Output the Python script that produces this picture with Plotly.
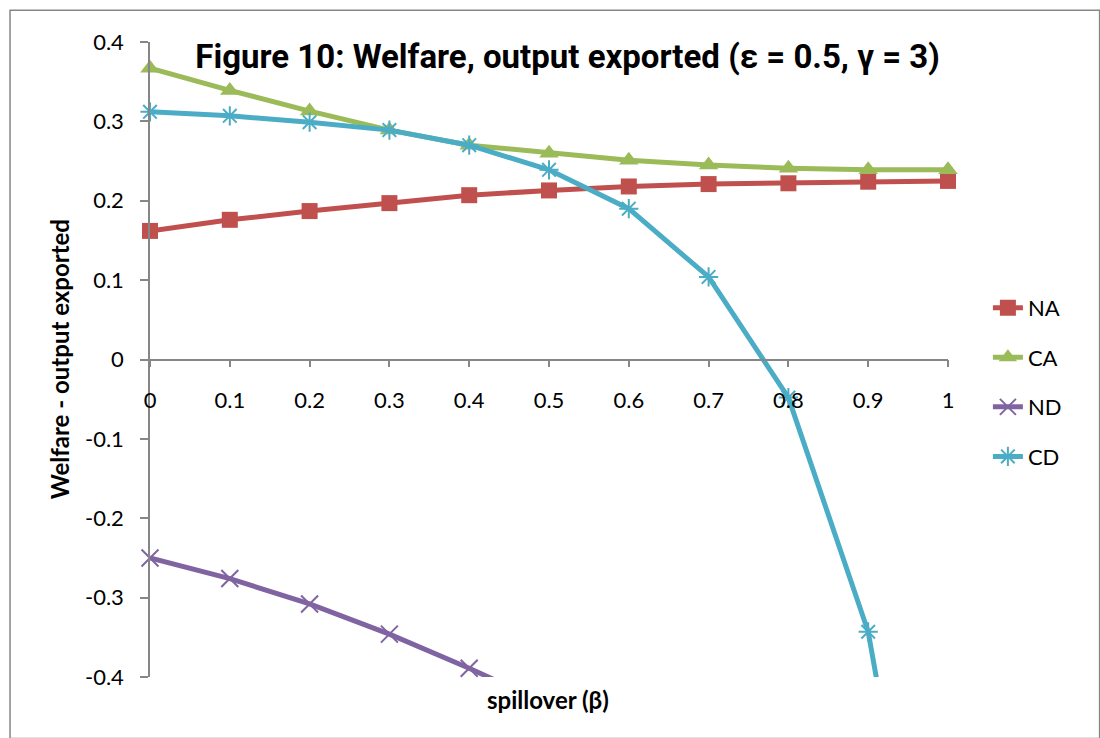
import plotly.graph_objects as go

beta = [0, 0.1, 0.2, 0.3, 0.4, 0.5, 0.6, 0.7, 0.8, 0.9, 1.0]
tick_vals_x = [0, 0.1, 0.2, 0.3, 0.4, 0.5, 0.6, 0.7, 0.8, 0.9, 1]
tick_text_x = ["0", "0.1", "0.2", "0.3", "0.4", "0.5", "0.6", "0.7", "0.8", "0.9", "1"]
tick_vals_y = [-0.4, -0.3, -0.2, -0.1, 0, 0.1, 0.2, 0.3, 0.4]
tick_text_y = ["-0.4", "-0.3", "-0.2", "-0.1", "0", "0.1", "0.2", "0.3", "0.4"]

NA = [0.162, 0.176, 0.187, 0.197, 0.207, 0.213, 0.218, 0.221, 0.222, 0.224, 0.225]
CA = [0.367, 0.339, 0.313, 0.289, 0.270, 0.260, 0.251, 0.245, 0.241, 0.239, 0.239]
ND = [-0.250, -0.276, -0.308, -0.346, -0.389, -0.435, -0.49, -0.55, -0.62, -0.70, -0.79]
CD = [0.312, 0.307, 0.299, 0.289, 0.270, 0.239, 0.190, 0.104, -0.048, -0.343, -0.91]

series = [
    ("NA", NA, "#C0504D", "square", 16, 0),
    ("CA", CA, "#9BBB59", "triangle-up", 17, 0),
    ("ND", ND, "#8064A2", "x-thin", 17, 2),
    ("CD", CD, "#4BACC6", "asterisk", 16, 2),
]

fig = go.Figure()
for name, vals, color, sym, size, lw in series:
    fig.add_trace(go.Scatter(
        x=beta, y=vals, name=name, mode="lines+markers",
        line=dict(color=color, width=5),
        marker=dict(symbol=sym, size=size, color=color,
                    line=dict(color=color, width=lw)),
        cliponaxis=False, legendgroup=name,
    ))

base_font = "Lato, Liberation Sans, Arial"
tick_font = dict(family=base_font, size=22, color="#000000")

fig.update_layout(
    width=1100, height=738,
    paper_bgcolor="white", plot_bgcolor="white",
    margin=dict(l=150, r=152, t=42, b=61),
    title=dict(
        text="<b>Figure 10: Welfare, output exported (ε = 0.5, γ = 3)</b>",
        x=0.516, xanchor="center", y=0.923, yanchor="middle",
        font=dict(family="Roboto, Liberation Sans, Arial", size=33, color="#000000"),
    ),
    legend=dict(
        x=1.05, xanchor="left", y=0.464, yanchor="middle",
        font=dict(family=base_font, size=22, color="#000000"),
        tracegroupgap=18, bgcolor="rgba(0,0,0,0)",
    ),
    showlegend=True,
    xaxis=dict(
        range=[0, 1], tickvals=tick_vals_x, ticktext=tick_text_x,
        anchor="free", position=0.5,
        showline=True, linecolor="#868686", linewidth=1.5,
        ticks="outside", ticklen=7, tickcolor="#868686", tickwidth=1.5,
        ticklabelstandoff=14,
        showgrid=False, zeroline=False, tickfont=tick_font,
    ),
    yaxis=dict(
        range=[-0.4, 0.4], tickvals=tick_vals_y, ticktext=tick_text_y,
        showline=True, linecolor="#868686", linewidth=1.5,
        ticks="outside", ticklen=8, tickcolor="#868686", tickwidth=1.5,
        ticklabelstandoff=12,
        showgrid=False, zeroline=False, tickfont=tick_font,
    ),
    shapes=[dict(type="rect", xref="paper", yref="paper",
                 x0=-0.1754, x1=1.19, y0=-0.097, y1=1.050,
                 line=dict(color="#868686", width=1.5), fillcolor="rgba(0,0,0,0)", layer="below")],
)

fig.add_annotation(
    text="<b>spillover (β)</b>", xref="paper", yref="paper",
    x=0.499, y=-0.036, xanchor="center", yanchor="middle", showarrow=False,
    font=dict(family=base_font, size=24, color="#000000"),
)
fig.add_annotation(
    text="<b>Welfare - output exported</b>", xref="paper", yref="paper",
    x=-0.113, y=0.5, xanchor="center", yanchor="middle", showarrow=False,
    textangle=-90,
    font=dict(family=base_font, size=24, color="#000000"),
)

fig.write_html("out.html", config={"displayModeBar": False},
               post_script="document.body.style.margin='0';")
